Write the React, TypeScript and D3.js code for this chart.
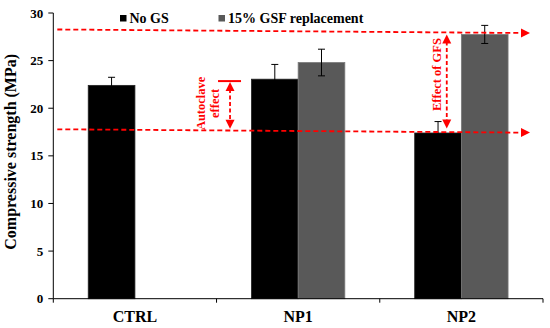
import * as d3 from 'd3';

const categories = ['CTRL', 'NP1', 'NP2'];
const seriesNames = ['No GS', '15% GSF replacement'];
const noGS = [22.4, 23.05, 17.4];
const noGSErr = [0.85, 1.55, 1.2];
const gsf: (number | null)[] = [null, 24.8, 27.75];
const gsfErr: (number | null)[] = [null, 1.4, 0.95];
const yTicks = [0, 5, 10, 15, 20, 25, 30];

// red reference lines (value at left end, value at right end)
const refStart = [28.27, 17.79];
const refEnd = [27.9, 17.44];
// autoclave effect span and GFS effect span
const autoclaveSpan = [22.85, 17.75];
const gfsSpan = [27.95, 17.45];

const W = 550;
const H = 328;
const RED = '#ff0000';
const txt = { fontFamily: "'Liberation Serif', 'Times New Roman', serif", fontWeight: 700 } as const;

export default function App() {
  const x = d3.scaleBand<string>().domain(categories).range([53.3, 543]);
  const y = d3.scaleLinear().domain([0, 30]).range([298.7, 13]);
  const bw = x.bandwidth();
  const barW = bw * 0.286;
  const xs = d3.scaleBand<string>().domain(seriesNames).range([bw / 2 - barW, bw / 2 + barW]);
  const fills = ['#000000', '#595959'];
  const strokes = ['#222222', '#7a7a7a'];

  const rows = categories.map((c, i) => [
    { c, s: seriesNames[0], v: noGS[i], e: noGSErr[i], k: 0 },
    { c, s: seriesNames[1], v: gsf[i], e: gsfErr[i], k: 1 },
  ]).flat().filter((d) => d.v != null) as { c: string; s: string; v: number; e: number; k: number }[];

  const [x0, x1] = x.range();
  const lineX0 = x0 + 4;
  const lineX1 = x1 - 13;

  const upHead = (cx: number, tipY: number) =>
    `M${cx},${tipY} L${cx - 4.5},${tipY + 9} L${cx + 4.5},${tipY + 9} Z`;
  const downHead = (cx: number, tipY: number) =>
    `M${cx},${tipY} L${cx - 4.5},${tipY - 9} L${cx + 4.5},${tipY - 9} Z`;
  const rightHead = (tipX: number, cy: number) =>
    `M${tipX},${cy} L${tipX - 9},${cy - 4.5} L${tipX - 9},${cy + 4.5} Z`;

  const acX = (x('NP1') ?? 0) + 13.5;
  const gfX = (x('NP2') ?? 0) + 67;

  return (
    <svg width={W} height={H} style={{ position: 'absolute', left: 0, top: 0, background: '#fff' }}>
      {/* bars */}
      {rows.map((d, i) => {
        const bx = (x(d.c) ?? 0) + (xs(d.s) ?? 0);
        return (
          <rect key={'b' + i} x={bx} y={y(d.v)} width={xs.bandwidth()} height={y(0) - y(d.v)}
            fill={fills[d.k]} stroke={strokes[d.k]} strokeWidth={0.8} />
        );
      })}
      {/* error bars */}
      {rows.map((d, i) => {
        const cx = (x(d.c) ?? 0) + (xs(d.s) ?? 0) + xs.bandwidth() / 2;
        return (
          <g key={'e' + i} stroke="#000" strokeWidth={1}>
            <line x1={cx} x2={cx} y1={y(d.v + d.e)} y2={y(d.v - d.e)} />
            <line x1={cx - 3.5} x2={cx + 3.5} y1={y(d.v + d.e)} y2={y(d.v + d.e)} />
            <line x1={cx - 3.5} x2={cx + 3.5} y1={y(d.v - d.e)} y2={y(d.v - d.e)} />
          </g>
        );
      })}
      {/* axes */}
      <line x1={x0} x2={x0} y1={y(30)} y2={y(0)} stroke="#000" strokeWidth={1} />
      <line x1={x0} x2={x1} y1={y(0)} y2={y(0)} stroke="#000" strokeWidth={1} />
      {yTicks.map((t) => (
        <g key={'yt' + t}>
          <line x1={x0 - 5} x2={x0} y1={y(t)} y2={y(t)} stroke="#000" />
          <text x={x0 - 10} y={y(t)} dy="0.35em" textAnchor="end" fontSize={13} style={txt}>{t}</text>
        </g>
      ))}
      {[...categories.map((c) => x(c) ?? 0), x1].map((p, i) => (
        <line key={'xt' + i} x1={p} x2={p} y1={y(0)} y2={y(0) + 4} stroke="#000" />
      ))}
      {categories.map((c) => (
        <text key={'xl' + c} x={(x(c) ?? 0) + bw / 2} y={322} textAnchor="middle" fontSize={16} style={txt}>{c}</text>
      ))}
      <text transform={`translate(16,${(y(0) + y(30)) / 2 - 4}) rotate(-90)`} textAnchor="middle" fontSize={16} style={txt}>
        Compressive strength (MPa)
      </text>
      {/* legend */}
      <rect x={120} y={15} width={6.5} height={6.5} fill={fills[0]} />
      <text x={129.5} y={22.5} fontSize={14} style={txt}>{seriesNames[0]}</text>
      <rect x={218.5} y={15} width={6.5} height={6.5} fill={fills[1]} />
      <text x={228} y={22.5} fontSize={14} style={txt}>{seriesNames[1]}</text>
      {/* red reference lines */}
      {refStart.map((v, i) => (
        <g key={'ref' + i}>
          <line x1={lineX0} x2={lineX1 - 8} y1={y(v)} y2={y(refEnd[i])} stroke={RED} strokeWidth={1.8} strokeDasharray="5 3" />
          <path d={rightHead(lineX1, y(refEnd[i]))} fill={RED} />
        </g>
      ))}
      {/* autoclave effect */}
      <line x1={acX - 12} x2={acX + 11} y1={y(autoclaveSpan[0])} y2={y(autoclaveSpan[0])} stroke={RED} strokeWidth={2} />
      <line x1={acX} x2={acX} y1={y(autoclaveSpan[0]) + 8} y2={y(autoclaveSpan[1]) - 8} stroke={RED} strokeWidth={1.8} strokeDasharray="4 2.5" />
      <path d={upHead(acX, y(autoclaveSpan[0]) + 1)} fill={RED} />
      <path d={downHead(acX, y(autoclaveSpan[1]) - 1)} fill={RED} />
      <text transform={`translate(${acX - 25},${(y(autoclaveSpan[0]) + y(autoclaveSpan[1])) / 2 - 2}) rotate(-90)`}
        textAnchor="middle" fontSize={12.5} fill={RED} style={txt}>
        <tspan x={0} dy="0">Autoclave</tspan>
        <tspan x={0} dy="1.15em">effect</tspan>
      </text>
      {/* GFS effect */}
      <line x1={gfX} x2={gfX} y1={y(gfsSpan[0]) + 9} y2={y(gfsSpan[1]) - 9} stroke={RED} strokeWidth={1.8} strokeDasharray="4 2.5" />
      <path d={upHead(gfX, y(gfsSpan[0]) + 2)} fill={RED} />
      <path d={downHead(gfX, y(gfsSpan[1]) - 4)} fill={RED} />
      <text transform={`translate(${gfX - 6},${(y(gfsSpan[0]) + y(gfsSpan[1])) / 2 - 8}) rotate(-90)`}
        textAnchor="middle" fontSize={12.5} fill={RED} style={txt}>
        Effect of GFS
      </text>
    </svg>
  );
}
